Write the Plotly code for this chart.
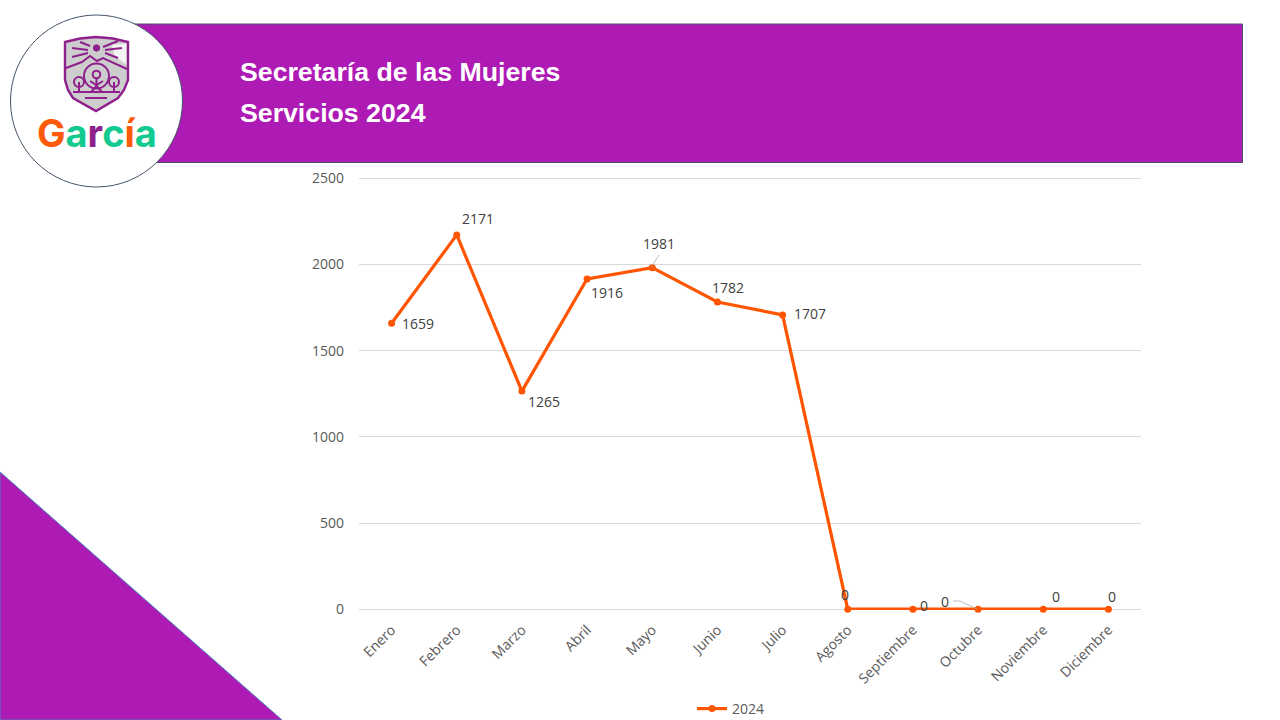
import plotly.graph_objects as go

W, H = 1280, 720
L, R, T, B = 359, 1141, 170, 610

months = ["Enero", "Febrero", "Marzo", "Abril", "Mayo", "Junio", "Julio", "Agosto",
          "Septiembre", "Octubre", "Noviembre", "Diciembre"]
values = [1659, 2171, 1265, 1916, 1981, 1782, 1707, 0, 0, 0, 0, 0]
label_shift_x = [26, 21, 22, 20, 7, 11, 27, -3, 11, -33, 13, 4]
label_shift_y = [0, 16, -10, -14, 24, 14, 1, 15, 4, 8, 13, 13]
y_ticks = [0, 500, 1000, 1500, 2000, 2500]
title_lines = ["Secretaría de las Mujeres", "Servicios 2024"]
series_name = "2024"

PURPLE = "#AE1AB4"
ORANGE = "#FF5500"
TEXT = "#595959"
LABEL = "#404040"
LOGO_P = "#8E1F8C"
EDGE = "#44546A"


def px(x):
    return (x - L) / (R - L)


def py(y):
    return (B - y) / (B - T)


def path(points, close=False):
    s = "M " + " L ".join(f"{px(x):.5f},{py(y):.5f}" for x, y in points)
    return s + (" Z" if close else "")


def circle_shape(cx, cy, r, **kw):
    return dict(type="circle", xref="paper", yref="paper", x0=px(cx - r), x1=px(cx + r),
                y0=py(cy + r), y1=py(cy - r), layer="above", **kw)


def line_shape(points, color=LOGO_P, width=2, close=False, fill=None):
    d = dict(type="path", xref="paper", yref="paper", path=path(points, close), layer="above",
             line=dict(color=color, width=width))
    if fill:
        d["fillcolor"] = fill
    return d


shield = [(65, 42), (80, 38.5), (96, 37), (113, 38.5), (128, 42), (128, 80), (124, 90), (118, 98),
          (96, 111), (73, 98), (68, 90), (65, 80)]
tree_stroke = dict(color=LOGO_P, width=2)

shapes = [
    # banner
    dict(type="rect", xref="paper", yref="paper", x0=px(130), x1=px(1242.5), y0=py(162.5), y1=py(24),
         fillcolor=PURPLE, line=dict(color=EDGE, width=1), layer="below"),
    # corner triangle
    line_shape([(0, 472), (282, 720), (0, 720)], color="#4A7EBB", width=1, close=True, fill=PURPLE),
    # logo disc
    circle_shape(96.5, 101, 86, fillcolor="white", line=dict(color=EDGE, width=1)),
    # shield
    line_shape(shield, width=2.4, close=True, fill="#CDCDCD"),
    line_shape([(112, 45), (126, 44), (126, 64), (115, 56)], color="#F4F4F4", width=0.5, close=True, fill="#F4F4F4"),
    line_shape([(66, 68), (82, 62), (90, 56), (97, 61), (103, 58), (127, 69)], width=2),
    circle_shape(96.5, 48, 3.2, fillcolor=LOGO_P, line=dict(color=LOGO_P, width=1)),
    line_shape([(80, 42), (90, 46)]),
    line_shape([(72, 48), (88, 50)]),
    line_shape([(72, 57), (88, 53)]),
    line_shape([(103, 47), (118, 41)]),
    line_shape([(105, 50), (122, 48)]),
    line_shape([(105, 53), (118, 58)]),
    circle_shape(96.5, 76, 12.5, line=tree_stroke),
    circle_shape(96.5, 74.5, 3.8, line=tree_stroke),
    circle_shape(79, 82, 5, line=tree_stroke),
    circle_shape(114, 82, 5, line=tree_stroke),
    line_shape([(96.5, 79), (96.5, 88)]),
    line_shape([(90, 81), (96.5, 85), (103, 81)]),
    line_shape([(91, 92), (96.5, 86), (102, 92)]),
    line_shape([(79, 82), (79, 92)]),
    line_shape([(114, 82), (114, 92)]),
    line_shape([(73, 92), (120, 92)]),
    line_shape([(85, 98), (107, 98)]),
    # leader lines of two data labels
    line_shape([(651, 267), (659, 255)], color="#A6A6A6", width=0.75),
    line_shape([(953, 601), (960, 601), (977, 609)], color="#A6A6A6", width=0.75),
]

annotations = [
    dict(x=months[i], y=values[i], xref="x", yref="y", text=str(values[i]), showarrow=False,
         xshift=label_shift_x[i], yshift=label_shift_y[i],
         font=dict(family="Open Sans", size=14, color=LABEL))
    for i in range(len(months))
]
annotations += [
    dict(x=px(238), y=py(72), xref="paper", yref="paper", xanchor="left", yanchor="middle",
         text=f"<b>{title_lines[0]}</b>", showarrow=False,
         font=dict(family="Liberation Sans", size=26.7, color="white")),
    dict(x=px(238), y=py(113), xref="paper", yref="paper", xanchor="left", yanchor="middle",
         text=f"<b>{title_lines[1]}</b>", showarrow=False,
         font=dict(family="Liberation Sans", size=26.7, color="white")),
    dict(x=px(96.5), y=py(133), xref="paper", yref="paper", xanchor="center", yanchor="middle",
         showarrow=False, font=dict(family="Inter", size=38),
         text=("<b><span style='color:#FF5A0A'>G</span><span style='color:#12C98F'>a</span>"
               "<span style='color:#8E1F8C'>r</span><span style='color:#12C98F'>c</span>"
               "<span style='color:#FF5A0A'>í</span><span style='color:#12C98F'>a</span></b>")),
]

fig = go.Figure(go.Scatter(
    x=months, y=values, name=series_name, mode="lines+markers", cliponaxis=False,
    line=dict(color=ORANGE, width=3.2), marker=dict(color=ORANGE, size=7),
))
fig.update_layout(
    width=W, height=H, margin=dict(l=L, r=W - R, t=T, b=H - B, autoexpand=False),
    paper_bgcolor="white", plot_bgcolor="white",
    font=dict(family="Open Sans", size=14, color=TEXT),
    showlegend=True,
    legend=dict(orientation="h", x=px(731), xanchor="center", y=py(709), yanchor="middle",
                itemwidth=30, font=dict(size=14, color=TEXT), bgcolor="rgba(0,0,0,0)"),
    shapes=shapes, annotations=annotations,
    xaxis=dict(type="category", categoryorder="array", categoryarray=months, tickangle=-45,
               range=[-0.5, 11.5], showgrid=False, zeroline=False, showline=False, ticks="",
               ticklabelstandoff=8),
    yaxis=dict(range=[-4.64, 2547.6], tickvals=y_ticks, showgrid=True, gridcolor="#D9D9D9", gridwidth=1,
               zeroline=True, zerolinecolor="#D9D9D9", zerolinewidth=1, ticks="", showline=False,
               ticklabelstandoff=14),
)
fig.write_html("out.html", config=dict(displayModeBar=False),
               post_script="document.body.style.margin='0';")
